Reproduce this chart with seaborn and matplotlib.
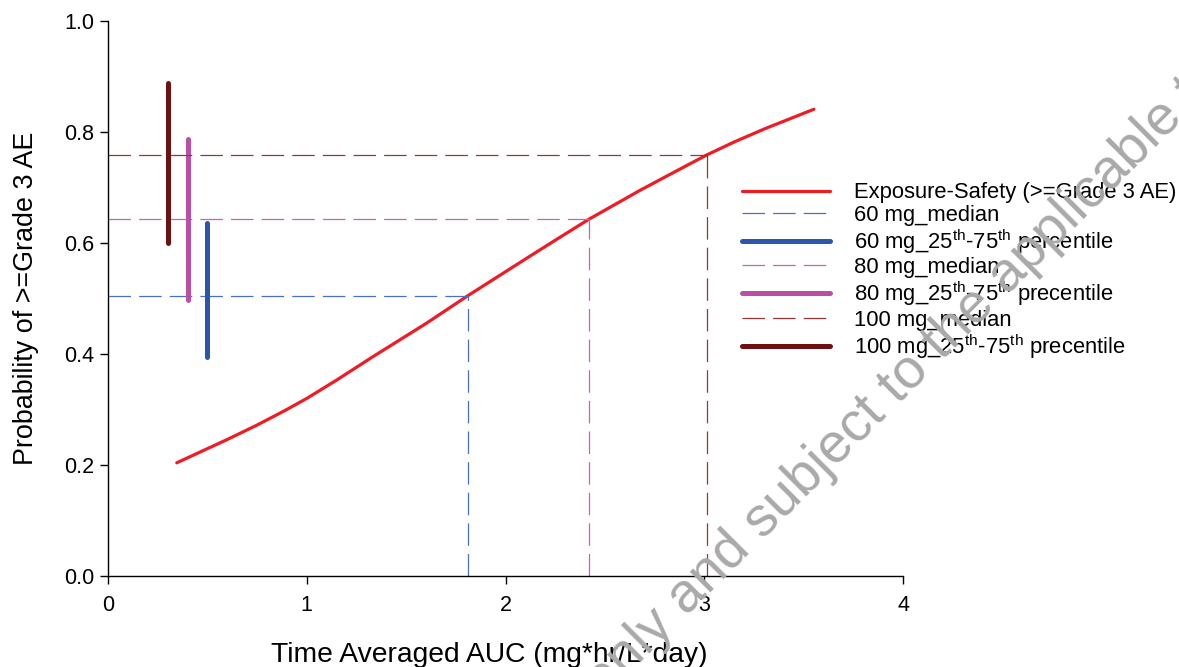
import numpy as np
import pandas as pd
import seaborn as sns
from matplotlib import pyplot as plt

# exposure-safety curve
auc = [0.346, 0.60, 0.75, 0.884, 1.0, 1.15, 1.332, 1.6, 1.81, 2.117, 2.25, 2.42,
       2.677, 2.85, 3.014, 3.15, 3.305, 3.551]
prob = [0.204, 0.246, 0.272, 0.297, 0.320, 0.353, 0.395, 0.455, 0.505, 0.575,
        0.605, 0.643, 0.695, 0.728, 0.759, 0.782, 0.806, 0.841]

# dose groups: median AUC and predicted probability at the median
doses = ["60 mg", "80 mg", "100 mg"]
median_auc = [1.81, 2.42, 3.015]
median_prob = [0.505, 0.643, 0.759]

# 25th-75th percentile bars drawn near the y axis
bar_x = [0.50, 0.40, 0.30]
bar_low = [0.395, 0.497, 0.600]
bar_high = [0.636, 0.787, 0.888]

median_colors = ["#4a70c4", "#c663b4", "#9b3535"]
bar_colors = ["#2d55a8", "#bb4fa6", "#6f1010"]
pct_word = ["percentile", "precentile", "precentile"]

sns.set_style("ticks")
plt.rcParams["font.family"] = ["Liberation Sans", "DejaVu Sans"]
plt.rcParams["mathtext.fontset"] = "custom"
plt.rcParams["mathtext.rm"] = "Liberation Sans"
plt.rcParams["mathtext.it"] = "Liberation Sans"
for k in ["text.color", "axes.labelcolor", "xtick.color", "ytick.color"]:
    plt.rcParams[k] = "black"

fig = plt.figure(figsize=(11.79, 6.67), dpi=100)
ax = fig.add_axes([0.0916, 0.1364, 0.6744, 0.8321])

curve = pd.DataFrame({"auc": auc, "prob": prob})
sns.lineplot(data=curve, x="auc", y="prob", ax=ax, color="#ee1c25", lw=2.3,
             label="Exposure-Safety (>=Grade 3 AE)")

for i, d in enumerate(doses):
    ax.plot([0, median_auc[i]], [median_prob[i], median_prob[i]],
            color=median_colors[i], lw=0.9, dashes=(18, 6.5),
            label=f"{d}_median")
    ax.plot([median_auc[i], median_auc[i]], [0, median_prob[i]],
            color=median_colors[i], lw=0.9, dashes=(18, 6.5))
    ax.plot([bar_x[i], bar_x[i]], [bar_low[i], bar_high[i]],
            color=bar_colors[i], lw=3.6, solid_capstyle="round",
            label=d + r"_25$^{\rm th}$-75$^{\rm th}$ " + pct_word[i])

ax.set_xlim(0, 4)
ax.set_ylim(0, 1.0)
ax.set_xticks([0, 1, 2, 3, 4])
ax.set_yticks([0.0, 0.2, 0.4, 0.6, 0.8, 1.0])
ax.set_yticklabels(["0.0", "0.2", "0.4", "0.6", "0.8", "1.0"])
ax.tick_params(labelsize=15.5, length=6, width=1, color="black")
ax.tick_params(axis="x", pad=8)
ax.tick_params(axis="y", pad=4)
ax.set_xlabel("Time Averaged AUC (mg*hr/L*day)", fontsize=20.3, labelpad=19)
ax.xaxis.set_label_coords(0.479, -0.1185)
ax.set_ylabel("Probability of >=Grade 3 AE", fontsize=19.4, labelpad=18)
for s in ["left", "bottom"]:
    ax.spines[s].set_linewidth(1.0)
    ax.spines[s].set_color("black")
sns.despine(ax=ax)

ax.legend(loc="upper left", bbox_to_anchor=(0.622, 0.740),
          bbox_transform=fig.transFigure, frameon=False, fontsize=15.8,
          handlelength=4.0, handletextpad=1.1, labelspacing=0.065,
          borderaxespad=0)

# diagonal watermark
fig.text(0.5115, -0.048, "only and subject to the applicable terms",
         rotation=45, rotation_mode="anchor", ha="left", va="baseline",
         fontsize=40, color="#a9a9a9", zorder=10)

fig.savefig("out.png", dpi=100)
